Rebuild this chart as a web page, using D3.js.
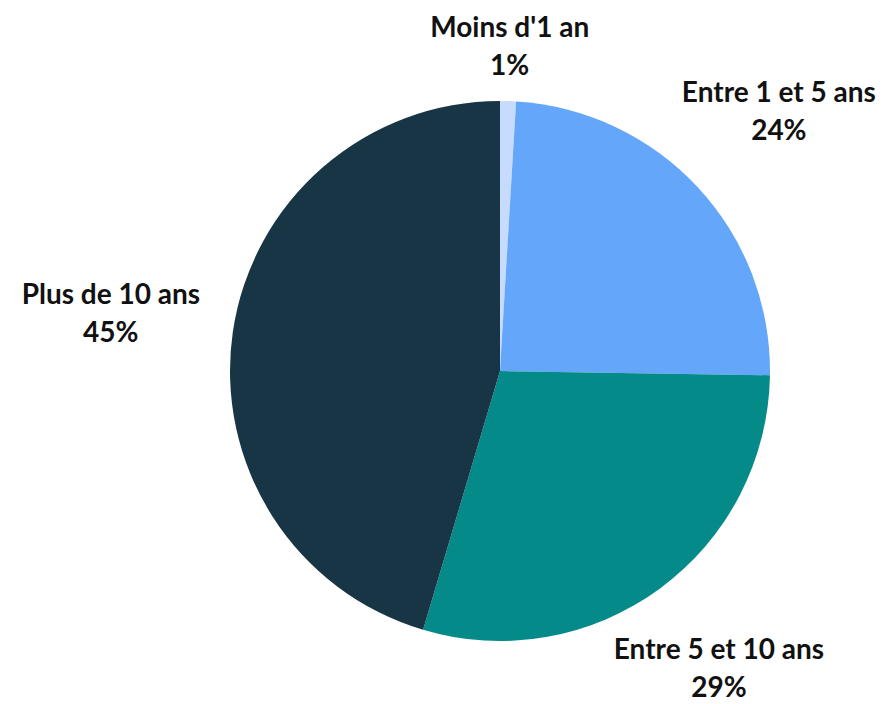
<!DOCTYPE html>
<meta charset="utf-8">
<style>
body { margin: 0; background: white; }
text { font-family: Lato, "Open Sans", sans-serif; font-weight: bold; fill: #111; }
</style>
<body>
<script src="https://d3js.org/d3.v7.min.js"></script>
<script>
// slice data
var categories = ["Moins d'1 an", "Entre 1 et 5 ans", "Entre 5 et 10 ans", "Plus de 10 ans"];
var values = [0.95, 24.3, 29.35, 45.4];
var percentLabels = ["1%", "24%", "29%", "45%"];
var colors = ["#c6dbfd", "#63a6fa", "#058a8a", "#183546"];

var width = 895, height = 704;
var cx = 500, cy = 371, radius = 270;

var svg = d3.select("body").append("svg")
    .attr("width", width)
    .attr("height", height);

var g = svg.append("g")
    .attr("transform", "translate(" + cx + "," + cy + ")");

var pie = d3.pie().sort(null).value(function(d) { return d; });
var arcs = pie(values);

var arc = d3.arc().innerRadius(0).outerRadius(radius);

g.selectAll("path")
    .data(arcs)
  .enter().append("path")
    .attr("d", arc)
    .style("fill", function(d, i) { return colors[i]; });

// labels sit outside the pie along each slice's middle angle
var labels = g.selectAll("text.lbl")
    .data(arcs)
  .enter().append("text")
    .attr("class", "lbl")
    .attr("text-anchor", "middle")
    .style("font-size", "28px")
    .attr("transform", function(d) {
      var a = (d.startAngle + d.endAngle) / 2;
      var s = Math.abs(Math.sin(a)), c = Math.abs(Math.cos(a));
      var r = 322 + 70 * s + 14 * s * c;
      return "translate(" + (Math.sin(a) * r) + "," + (-Math.cos(a) * r) + ")";
    });

labels.append("tspan")
    .attr("x", 0)
    .attr("y", -10)
    .text(function(d, i) { return categories[i]; });

labels.append("tspan")
    .attr("x", 0)
    .attr("y", 28)
    .text(function(d, i) { return percentLabels[i]; });
</script>
</body>
